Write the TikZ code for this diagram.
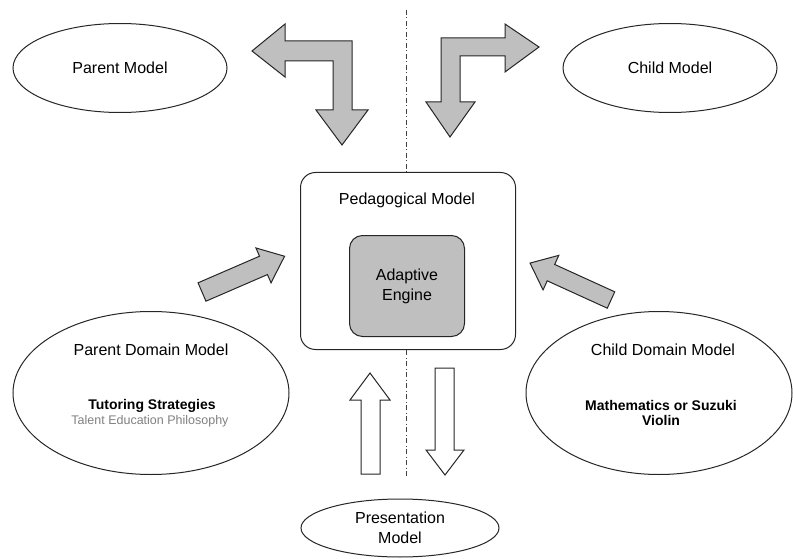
\documentclass[tikz,border=0pt]{standalone}
\usepackage{fontspec}
\setmainfont{Liberation Sans}
\usetikzlibrary{shapes.geometric}
\tikzset{
  model/.style={ellipse, draw=black!85, line width=1pt, inner sep=0pt},
  box/.style={rectangle, rounded corners=15pt, draw=black!85, line width=1pt},
  blockarrow/.style={draw=black!85, line width=1pt, fill=black!25, line join=miter},
  hollowarrow/.style={draw=black!85, line width=1pt, fill=white},
  axisline/.style={black!75, line width=1pt, dash pattern=on 5pt off 2.5pt on 1pt off 2.5pt},
  title/.style={font=\fontsize{16}{20}\selectfont, align=center, inner sep=0pt},
  detail/.style={font=\fontsize{14}{15}\selectfont\bfseries, align=center, inner sep=0pt},
  faint/.style={font=\fontsize{12.5}{14}\selectfont, text=black!50, inner sep=0pt}
}
\begin{document}
\begin{tikzpicture}[x=1pt,y=-1pt]
	\useasboundingbox (0,0) rectangle (793,559);

	% models round the pedagogical model
	\node at (120,68) [model, minimum width=214pt, minimum height=89pt, title] (parent) {Parent Model};
	\node at (670,68) [model, minimum width=214pt, minimum height=89pt, title] (child) {Child Model};
	\node at (151,393) [model, minimum width=276pt, minimum height=163pt] (pdomain) {};
	\node at (659,393) [model, minimum width=266pt, minimum height=163pt] (cdomain) {};
	\node at (400,528) [model, minimum width=198pt, minimum height=58pt, title] (present) {Presentation\\Model};

	\node at (151,350) [title] (pdtitle) {Parent Domain Model};
	\node at (152,406) [detail] (tutor) {Tutoring Strategies};
	\node at (150,421) [faint] (talent) {Talent Education Philosophy};
	\node at (663,350) [title] (cdtitle) {Child Domain Model};
	\node at (661,413) [detail] (subject) {Mathematics or Suzuki\\Violin};

	% pedagogical model
	\node at (408,261) [box, minimum width=215pt, minimum height=177pt] (ped) {};
	\node at (407,200) [title] (pedtitle) {Pedagogical Model};
	\node at (407,286) [box, rounded corners=13pt, fill=black!25, minimum width=115pt, minimum height=101pt, title] (engine) {Adaptive\\Engine};

	\coordinate (axtop) at (406,10);
	\coordinate (axbot) at (406,478);
	\draw [axisline] (axtop) -- (axtop |- ped.north);
	\draw [axisline] (axbot |- ped.south) -- (axbot);

	% bent arrows
	\draw [blockarrow] (252,51) -- (285,24) -- (285,41) -- (352,41) -- (352,110) -- (368,110) -- (342,145)
		-- (316,110) -- (333,110) -- (333,61) -- (285,61) -- (285,77) -- cycle;
	\draw [blockarrow] (539,47) -- (505,24) -- (505,38) -- (441,38) -- (441,102) -- (426,102) -- (450,137)
		-- (475,102) -- (460,102) -- (460,56) -- (505,56) -- (505,72) -- cycle;

	% slanted arrows
	\draw [blockarrow, shift={(202,292)}, rotate=23.4] (0,-10) -- (67,-10) -- (67,-19) -- (90,0)
		-- (67,19) -- (67,10) -- (0,10) -- cycle;
	\draw [blockarrow, shift={(611,300)}, rotate=155.5] (0,-9) -- (66,-9) -- (66,-19) -- (89,0)
		-- (66,19) -- (66,9) -- (0,9) -- cycle;

	% presentation arrows
	\draw [hollowarrow] (361,474) -- (361,400) -- (350,400) -- (370,373) -- (390,400) -- (380,400) -- (380,474) -- cycle;
	\draw [hollowarrow] (435,368) -- (435,450) -- (426,450) -- (445,475) -- (464,450) -- (454,450) -- (454,368) -- cycle;
\end{tikzpicture}
\end{document}
